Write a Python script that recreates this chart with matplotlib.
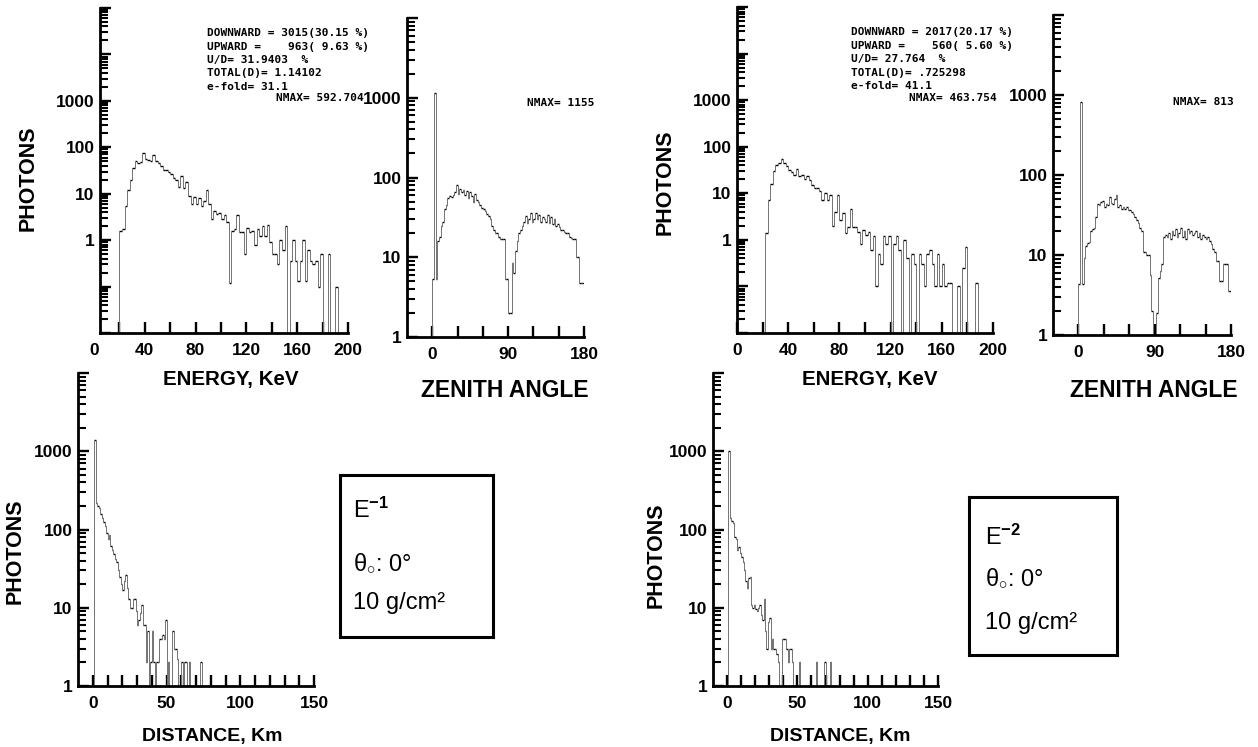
import numpy as np
import matplotlib
matplotlib.use("Agg")
import matplotlib.pyplot as plt
from matplotlib.ticker import FixedLocator, FuncFormatter, NullFormatter

W, H = 1258, 747

plt.rcParams.update({
    "font.family": "Liberation Sans",
    "font.weight": "bold",
    "axes.linewidth": 2.0,
    "mathtext.fontset": "custom",
    "mathtext.rm": "Liberation Sans",
    "mathtext.it": "Liberation Sans",
    "mathtext.bf": "Liberation Sans:bold",
    "ytick.minor.visible": True,
})

# ---------------------------------------------------------------------------
# data (bin contents, 0 = empty bin)
# ---------------------------------------------------------------------------
ENERGY_LO, ENERGY_BIN = 20, 2       # keV
ZENITH_LO, ZENITH_BIN = 0, 2        # degrees
DIST_LO, DIST_BIN = 0, 1            # km

energy_e1 = [
    1.6, 1.7, 5.5, 12, 20, 35, 50, 45, 48, 75,
    55, 52, 50, 68, 50, 45, 40, 33, 32, 30,
    27, 22, 20, 14, 24, 13, 18, 9, 6, 8.5,
    6, 8, 5.5, 7, 12, 6, 2.8, 4.2, 3.6, 3.8,
    2.9, 3.4, 2.5, 0.12, 1.6, 1.7, 3.5, 1.5, 1.5, 0.5,
    1.8, 1.5, 1.6, 0.8, 1.7, 1.2, 2.0, 1.2, 2.1, 0.9,
    0.5, 0.5, 0.3, 1.0, 0.6, 2.0, 0, 0.35, 1.0, 0.35,
    0.13, 0.35, 1.0, 0.13, 0.6, 0.35, 0.3, 0.35, 0.1, 0.5,
    0, 0, 0.5, 0, 0, 0.1, 0, 0, 0, 0,
]
energy_e2 = [
    0, 1.4, 7, 16, 30, 40, 45, 55, 45, 38,
    32, 28, 25, 33, 24, 25, 20, 24, 19, 15,
    13, 13, 11, 7, 10, 7, 9, 2, 4, 9,
    2.7, 3.7, 1.4, 1.9, 4.7, 1.9, 1.9, 1.5, 0.8, 1.6,
    1.3, 1.5, 0.6, 1.2, 0.1, 0.5, 0.3, 1.2, 0.8, 1.2,
    0, 0.8, 1.2, 0.6, 0, 1.0, 0.4, 0, 0.5, 0.3,
    0, 0.5, 0.3, 0.1, 0.5, 0.6, 0.3, 0.1, 0.5, 0.1,
    0.3, 0.1, 0.12, 0.12, 0, 0, 0.1, 0, 0.25, 0.7,
    0, 0, 0, 0.12, 0, 0, 0, 0, 0, 0,
]
zenith_e1 = [
    5.3, 1155, 5.3, 16, 18, 25, 28, 40, 45, 55,
    58, 57, 60, 65, 80, 62, 72, 65, 70, 60,
    68, 55, 65, 58, 50, 62, 52, 50, 45, 42,
    40, 38, 35, 33, 30, 25, 22, 20, 20, 18,
    17, 17, 17, 5.3, 5.3, 2, 2, 8.5, 6.3, 12,
    16, 20, 22, 25, 28, 33, 27, 30, 36, 28,
    30, 36, 30, 34, 28, 32, 30, 28, 34, 27,
    32, 26, 30, 25, 26, 24, 22, 22, 21, 20,
    20, 18, 17.5, 17, 17, 10, 10, 4.7, 4.7, 4.7,
]
zenith_e2 = [
    4.3, 813, 4.3, 9.3, 13, 14, 14.5, 20, 21, 22,
    30, 44, 42, 46, 48, 40, 44, 42, 53, 45,
    44, 50, 57, 40, 42, 38, 40, 38, 40, 36,
    36, 34, 33, 30, 27, 25, 22, 20, 11, 11,
    10, 10, 5.7, 2, 0, 0, 1.9, 5.2, 6.3, 7.7,
    17, 18, 17, 19, 16, 20, 18, 21, 17, 19,
    22, 17, 20, 16, 21, 19, 20, 18, 19, 20,
    17, 19, 16, 18, 17, 16, 16.6, 15, 13.8, 12,
    11, 8.4, 8.4, 4.7, 4.7, 7.7, 7.7, 7.7, 3.5, 3.5,
]
dist_e1 = [
    0, 1400, 215, 200, 190, 160, 140, 125, 110, 90,
    75, 85, 62, 55, 48, 42, 38, 30, 25, 20,
    17, 22, 26, 18, 13, 10, 10, 13, 13, 9,
    6, 7, 8.5, 11, 6, 6, 2, 5, 0, 2,
    5, 2, 0, 2, 2, 4, 4, 4.5, 4, 7,
    0, 2, 0, 0, 5, 3, 3, 2.2, 0, 0,
    2, 0, 2, 2, 0, 2, 0, 0, 0, 0,
    0, 0, 0, 2, 0,
]
dist_e2 = [
    0, 1000, 140, 130, 120, 80, 75, 55, 60, 50,
    45, 38, 30, 22, 18, 24, 25, 11, 10, 11,
    9.5, 9, 10, 11, 8, 7, 13, 5, 3, 6.5,
    7.5, 3, 4, 3, 3, 2.6, 2, 0, 0, 4,
    4, 4, 3, 2, 3, 3, 2, 0, 0, 0,
    0, 2, 0, 0, 0, 0, 0, 0, 0, 0,
    0, 0, 0, 2, 0, 0, 0, 0, 0, 2,
    0, 0, 0, 2,
]

stats_e1 = ["DOWNWARD = 3015(30.15 %)",
            "UPWARD =    963( 9.63 %)",
            "U/D= 31.9403  %",
            "TOTAL(D)= 1.14102",
            "e-fold= 31.1"]
stats_e2 = ["DOWNWARD = 2017(20.17 %)",
            "UPWARD =    560( 5.60 %)",
            "U/D= 27.764  %",
            "TOTAL(D)= .725298",
            "e-fold= 41.1"]
nmax_energy = ["NMAX= 592.704", "NMAX= 463.754"]
nmax_zenith = ["NMAX= 1155", "NMAX= 813"]
box_lines = [["E$^{-1}$", "θ$_{\\circ}$: 0°", "10 g/cm²"],
             ["E$^{-2}$", "θ$_{\\circ}$: 0°", "10 g/cm²"]]


def px_axes(fig, x0, y0, x1, y1):
    return fig.add_axes([x0 / W, 1 - y1 / H, (x1 - x0) / W, (y1 - y0) / H])


def step_hist(ax, lo, width, vals, floor):
    vals = np.asarray(vals, float)
    edges = lo + width * np.arange(len(vals) + 1)
    full = vals > 0
    lev = np.where(full, vals, floor)
    ax.hlines(lev[full], edges[:-1][full], edges[1:][full], color="black", lw=1.0)
    prev = np.concatenate([[floor], lev])
    nxt = np.concatenate([lev, [floor]])
    ax.vlines(edges, np.minimum(prev, nxt), np.maximum(prev, nxt),
              color="0.45", lw=0.7)


def style(ax, xlim, ylim, xticks, xlabels):
    ax.set_yscale("log")
    ax.set_xlim(*xlim)
    ax.set_ylim(*ylim)
    ax.spines["top"].set_visible(False)
    ax.spines["right"].set_visible(False)
    ax.xaxis.set_major_locator(FixedLocator(xticks))
    ax.xaxis.set_major_formatter(
        FuncFormatter(lambda v, p: f"{v:g}" if v in xlabels else ""))
    lo, hi = int(round(np.log10(ylim[0]))), int(round(np.log10(ylim[1])))
    decades = [10.0 ** d for d in range(lo, hi + 1)]
    minors = [m * 10.0 ** d for d in range(lo, hi) for m in range(2, 10)]
    ax.yaxis.set_major_locator(FixedLocator(decades))
    ax.yaxis.set_minor_locator(FixedLocator(minors))
    ax.yaxis.set_major_formatter(
        FuncFormatter(lambda v, p: f"{v:g}" if 1 <= v <= 1000 else ""))
    ax.yaxis.set_minor_formatter(NullFormatter())
    ax.tick_params(axis="both", which="major", direction="in", length=8,
                   width=1.7, labelsize=12.5, pad=4, color="black")
    ax.tick_params(axis="x", which="major", pad=7)
    ax.tick_params(axis="y", which="minor", direction="in", length=5.5,
                   width=1.5, color="black", left=True)
    for lab in ax.get_xticklabels() + ax.get_yticklabels():
        lab.set_fontweight("bold")
    if xlim[0] > 0 and 0 in xlabels:
        ax.annotate("0", xy=(0, 0), xycoords=("data", "axes fraction"),
                    xytext=(0, -7), textcoords="offset points", ha="center",
                    va="top", fontsize=12.5, fontweight="bold",
                    annotation_clip=False)


fig = plt.figure(figsize=(W / 100, H / 100), dpi=100)

panels = [
    dict(en=energy_e1, ze=zenith_e1, di=dist_e1, stats=stats_e1,
         en_ax=(100, 8, 348, 333), en_x0=4.7, ze_ax=(407, 18, 584, 337),
         di_ax=(78, 373, 314, 686), box=(340, 475, 493, 637),
         stat_xy=(207, 33), nmax_e=(364, 98), nmax_z=(527, 103),
         ph_e=(28, 178), ph_d=(15, 551),
         en_lab=(231, 380), ze_lab=(505, 390), di_lab=(212, 737),
         box_txt=(353, [510, 563, 603])),
    dict(en=energy_e2, ze=zenith_e2, di=dist_e2, stats=stats_e2,
         en_ax=(737, 7, 993, 333), en_x0=0, ze_ax=(1053, 15, 1231, 335),
         di_ax=(713, 373, 938, 686), box=(969, 497, 1117, 655),
         stat_xy=(851, 32), nmax_e=(997, 98), nmax_z=(1173, 102),
         ph_e=(665, 182), ph_d=(656, 555),
         en_lab=(870, 380), ze_lab=(1154, 390), di_lab=(840, 737),
         box_txt=(985, [537, 578, 623])),
]

label_sizes = {"en_lab": 14.8, "ze_lab": 16.5, "di_lab": 14}

for i, p in enumerate(panels):
    # energy spectrum
    ax = px_axes(fig, *p["en_ax"])
    style(ax, (p["en_x0"], 200), (0.01, 1e5), np.arange(0, 201, 20), [0, 40, 80, 120, 160, 200])
    step_hist(ax, ENERGY_LO, ENERGY_BIN, p["en"], 0.01)

    # zenith angle
    ax = px_axes(fig, *p["ze_ax"])
    style(ax, (-30, 180), (1, 1e4), np.arange(0, 181, 30), [0, 90, 180])
    step_hist(ax, ZENITH_LO, ZENITH_BIN, p["ze"], 1)

    # distance
    ax = px_axes(fig, *p["di_ax"])
    style(ax, (-10, 150), (1, 1e4), np.arange(0, 151, 10), [0, 50, 100, 150])
    step_hist(ax, DIST_LO, DIST_BIN, p["di"], 1)

    # run statistics
    sx, sy = p["stat_xy"]
    for k, line in enumerate(p["stats"]):
        fig.text(sx / W, 1 - (sy + 13.5 * k) / H, line, family="DejaVu Sans Mono",
                 fontsize=8, fontweight="bold", va="center", ha="left")
    fig.text(p["nmax_e"][0] / W, 1 - p["nmax_e"][1] / H, nmax_energy[i],
             family="DejaVu Sans Mono", fontsize=8, fontweight="bold",
             va="center", ha="right")
    fig.text(p["nmax_z"][0] / W, 1 - p["nmax_z"][1] / H, nmax_zenith[i],
             family="DejaVu Sans Mono", fontsize=8, fontweight="bold",
             va="center", ha="left")

    # axis titles
    for key in ("ph_e", "ph_d"):
        x, y = p[key]
        fig.text(x / W, 1 - y / H, "PHOTONS", rotation=90, fontsize=15.5,
                 fontweight="bold", ha="center", va="center")
    for key, txt in (("en_lab", "ENERGY, KeV"), ("ze_lab", "ZENITH ANGLE"),
                     ("di_lab", "DISTANCE, Km")):
        x, y = p[key]
        fig.text(x / W, 1 - y / H, txt, fontsize=label_sizes[key],
                 fontweight="bold", ha="center", va="center")

    # parameter box
    bx = px_axes(fig, *p["box"])
    bx.set_xticks([])
    bx.set_yticks([])
    bx.minorticks_off()
    for s in bx.spines.values():
        s.set_linewidth(2.2)
    tx, tys = p["box_txt"]
    for line, ty in zip(box_lines[i], tys):
        fig.text(tx / W, 1 - ty / H, line, fontsize=17, fontweight="normal",
                 ha="left", va="center")

fig.savefig("out.png", dpi=100)
